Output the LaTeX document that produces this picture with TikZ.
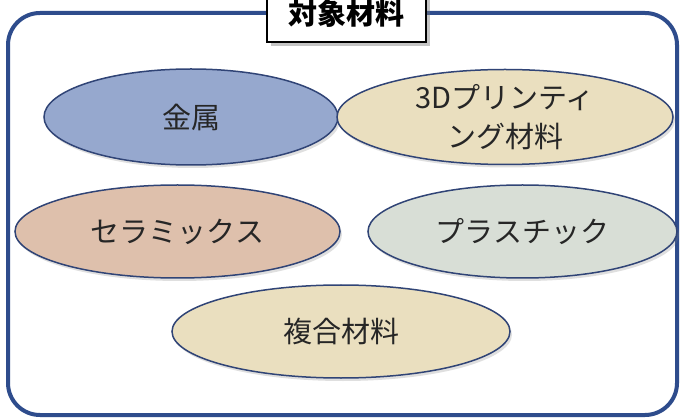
\documentclass[tikz,border=0pt]{standalone}
\usepackage{fontspec}
\setmainfont{Noto Sans CJK JP}
\usetikzlibrary{shapes.geometric,shadows}
\definecolor{framecol}{RGB}{46,76,140}
\definecolor{edgecol}{RGB}{48,68,118}
\definecolor{metalfill}{RGB}{150,168,206}
\definecolor{beigefill}{RGB}{234,223,191}
\definecolor{ceramicfill}{RGB}{222,192,172}
\definecolor{plasticfill}{RGB}{216,222,214}
\definecolor{txtcol}{RGB}{38,38,38}
\tikzset{
  matell/.style={ellipse, draw=edgecol, line width=1.5pt, inner sep=0pt,
    text=txtcol, font=\fontsize{29}{39}\selectfont, align=center,
    drop shadow={shadow xshift=2pt, shadow yshift=-3pt, opacity=0.25}},
  titlebox/.style={draw=black, line width=1.6pt, fill=white, inner sep=0pt,
    font=\fontsize{29}{32}\selectfont\bfseries, text=black,
    drop shadow={shadow xshift=4pt, shadow yshift=-4pt, opacity=0.45}},
  framebox/.style={draw=framecol, line width=4pt, rounded corners=32pt}
}
\begin{document}
\begin{tikzpicture}[x=1pt,y=-1pt]
\useasboundingbox (0,0) rectangle (682,419);
\fill[white] (0,0) rectangle (682,419);
\draw[framebox] (8,13) rectangle (677,415);
\node[titlebox, minimum width=159pt, minimum height=57pt] (title) at (346.5,13.5) {対象材料};
\node[matell, fill=metalfill, minimum width=294pt, minimum height=96pt] (metal) at (191,117) {金属};
\node[matell, fill=beigefill, minimum width=336pt, minimum height=95pt] (print3d) at (505,117) {3Dプリンティ\\ング材料};
\node[matell, fill=ceramicfill, minimum width=325pt, minimum height=93pt] (ceramic) at (177.5,231.5) {セラミックス};
\node[matell, fill=plasticfill, minimum width=309pt, minimum height=93pt] (plastic) at (522.5,231.5) {プラスチック};
\node[matell, fill=beigefill, minimum width=338pt, minimum height=93pt] (composite) at (341,331.5) {複合材料};
\end{tikzpicture}
\end{document}
